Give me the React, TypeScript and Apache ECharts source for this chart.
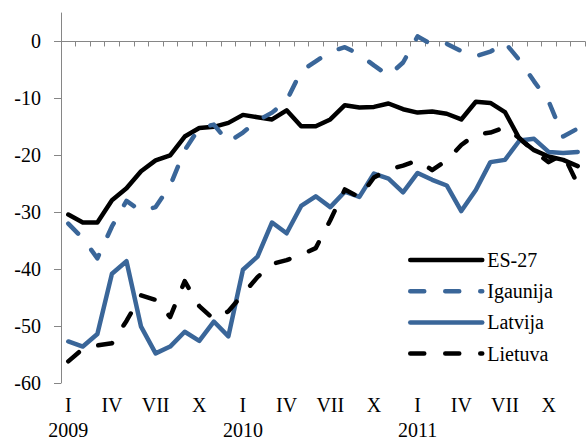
import React, { useEffect, useRef } from 'react';
import * as echarts from 'echarts';

const years = ['2009', '2010', '2011'];
const monthNames = ['I', 'II', 'III', 'IV', 'V', 'VI', 'VII', 'VIII', 'IX', 'X', 'XI', 'XII'];
const categories = years.flatMap((y) => monthNames.map((m) => `${m}|${y}`));

const es27 = [
  -30.4, -31.8, -31.8, -27.9, -25.8, -22.8, -20.9, -20.0, -16.7, -15.2, -15.0, -14.3,
  -12.9, -13.3, -13.7, -12.1, -14.9, -14.9, -13.7, -11.2, -11.6, -11.5, -10.9, -11.9,
  -12.5, -12.3, -12.7, -13.7, -10.6, -10.8, -12.4, -17.1, -19.1, -20.2, -20.8, -21.9,
];
const igaunija = [
  -32.0, -34.6, -38.1, -32.5, -28.0, -29.8, -29.1, -25.3, -19.1, -15.2, -14.6, -17.7,
  -16.0, -13.9, -12.5, -10.4, -5.2, -3.5, -1.8, -1.0, -2.3, -4.2, -6.0, -3.7,
  0.9, -0.6, -0.4, -1.7, -2.6, -1.8, -0.2, -3.3, -7.0, -10.5, -16.7, -15.3,
];
const latvija = [
  -52.7, -53.6, -51.4, -40.8, -38.6, -50.1, -54.8, -53.6, -51.0, -52.6, -49.2, -51.8,
  -40.1, -37.8, -31.8, -33.7, -28.9, -27.2, -29.1, -26.4, -27.3, -23.2, -24.1, -26.5,
  -23.1, -24.3, -25.3, -29.8, -26.1, -21.2, -20.8, -17.4, -17.1, -19.4, -19.6, -19.4,
];
const lietuva = [
  -56.2, -54.0, -53.4, -53.0, -49.1, -44.6, -45.4, -48.4, -42.1, -46.5, -48.8, -47.4,
  -44.4, -41.4, -39.1, -38.4, -37.5, -36.3, -31.4, -26.0, -27.4, -23.9, -22.5, -21.8,
  -20.9, -22.6, -20.9, -18.2, -16.3, -16.0, -15.1, -17.0, -19.3, -21.2, -19.8, -25.1,
];
const yTicks = [-60, -50, -40, -30, -20, -10, 0];

export default function App() {
  const ref = useRef<HTMLDivElement>(null);
  useEffect(() => {
    const chart = echarts.init(ref.current!, null, { renderer: 'svg' });
    const font = 'Liberation Serif, Times New Roman, serif';
    const blue = '#3a6699';
    const axisGray = '#868686';
    const dash = [14, 21];
    chart.setOption({
      animation: false,
      textStyle: { fontFamily: font },
      grid: { left: 61, right: 1, top: 13, bottom: 57, containLabel: false, outerBoundsMode: 'none' },
      legend: {
        orient: 'vertical',
        left: 403,
        top: 245,
        itemWidth: 72,
        itemHeight: 10,
        itemGap: 11.2,
        itemStyle: { color: 'transparent', borderWidth: 0, opacity: 0 },
        lineStyle: { width: 4.5, cap: 'round' },
        textStyle: { fontFamily: font, fontSize: 20, color: '#000', lineHeight: 20 },
        data: ['ES-27', 'Igaunija', 'Latvija', 'Lietuva'],
      },
      xAxis: [
        {
          type: 'category',
          data: categories,
          position: 'bottom',
          boundaryGap: true,
          axisLine: { onZero: true, lineStyle: { color: axisGray, width: 1 } },
          axisTick: { show: true, interval: 0, length: 5, lineStyle: { color: axisGray } },
          axisLabel: { show: false },
          splitLine: { show: false },
        },
        {
          type: 'category',
          data: categories,
          position: 'bottom',
          boundaryGap: true,
          axisLine: { show: false, onZero: false },
          axisTick: { show: false },
          splitLine: { show: false },
          axisLabel: {
            interval: 2,
            margin: 6,
            fontSize: 20,
            fontFamily: font,
            color: '#000',
            rich: {
              m: { fontSize: 20, fontFamily: font, color: '#000', lineHeight: 32 },
              y: { fontSize: 20, fontFamily: font, color: '#000', lineHeight: 18 },
            },
            formatter: (value: string, index: number) => {
              const [m, y] = value.split('|');
              return index % 12 === 0 ? `{m|${m}}\n{y|${y}}` : `{m|${m}}`;
            },
          },
        },
      ],
      yAxis: {
        type: 'value',
        min: -60,
        max: 5,
        interval: 10,
        axisLine: { show: true, lineStyle: { color: axisGray, width: 1 } },
        axisTick: { show: true, length: 7, customValues: yTicks, lineStyle: { color: axisGray } },
        axisLabel: { customValues: yTicks, fontSize: 20, fontFamily: font, color: '#000', margin: 20 },
        splitLine: { show: false },
      },
      series: [
        {
          name: 'ES-27',
          type: 'line',
          xAxisIndex: 0,
          data: es27,
          symbol: 'none',
          itemStyle: { color: '#000' },
          lineStyle: { color: '#000', width: 4.5, cap: 'round', join: 'round' },
        },
        {
          name: 'Igaunija',
          type: 'line',
          xAxisIndex: 0,
          data: igaunija,
          symbol: 'none',
          itemStyle: { color: blue },
          lineStyle: { color: blue, width: 4.5, type: dash, cap: 'round', join: 'round' },
        },
        {
          name: 'Latvija',
          type: 'line',
          xAxisIndex: 0,
          data: latvija,
          symbol: 'none',
          itemStyle: { color: blue },
          lineStyle: { color: blue, width: 4.5, cap: 'round', join: 'round' },
        },
        {
          name: 'Lietuva',
          type: 'line',
          xAxisIndex: 0,
          data: lietuva,
          symbol: 'none',
          itemStyle: { color: '#000' },
          lineStyle: { color: '#000', width: 4.5, type: dash, cap: 'round', join: 'round' },
        },
      ],
    });
    return () => chart.dispose();
  }, []);
  return <div ref={ref} style={{ position: 'absolute', left: 0, top: 0, width: 586, height: 440 }} />;
}
